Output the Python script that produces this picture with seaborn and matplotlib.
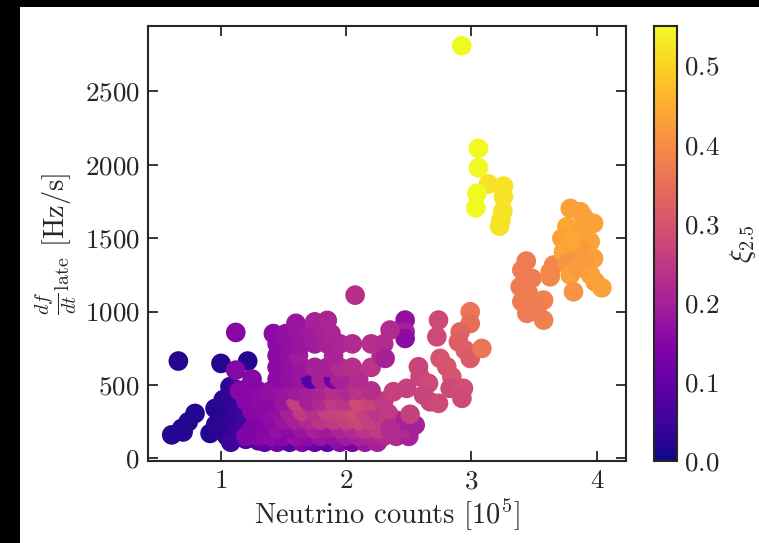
import matplotlib
matplotlib.use("Agg")
import numpy as np
import pandas as pd
import matplotlib.pyplot as plt
from matplotlib.colors import Normalize
from matplotlib.patches import Rectangle
import seaborn as sns

# ---- data: neutrino counts [1e5], late-time df/dt [Hz/s], compactness xi_2.5 ----
blue_x = [0.662, 1.002, 1.215, 0.609, 0.689, 0.741, 0.795, 0.70, 0.915, 0.955, 0.96, 1.0,
          1.02, 1.074, 1.12, 1.18, 1.05, 1.0, 1.1, 1.1, 1.15, 1.2, 1.25, 1.08, 1.2, 1.3,
          1.15, 1.28]
blue_y = [663, 647, 663, 160, 204, 249, 306, 180, 170, 340, 230, 300,
          400, 488, 470, 465, 150, 200, 250, 350, 330, 300, 200, 110, 130, 120,
          190, 260]
blue_xi = [0.02, 0.02, 0.02, 0.02, 0.02, 0.02, 0.02, 0.02, 0.02, 0.02, 0.03, 0.02,
           0.03, 0.03, 0.04, 0.03, 0.03, 0.03, 0.04, 0.04, 0.04, 0.05, 0.06, 0.05, 0.07, 0.08,
           0.05, 0.07]

core_x = [1.35, 1.45, 1.55, 1.65, 1.75, 1.85, 1.95, 2.05, 2.15, 2.25,
          1.2, 1.3, 1.4, 1.5, 1.6, 1.7, 1.8, 1.9, 2.0, 2.1, 2.2, 2.3, 2.4, 2.5,
          1.25, 1.35, 1.45, 1.55, 1.65, 1.75, 1.85, 1.95, 2.05, 2.15, 2.25, 2.35, 2.45,
          1.3, 1.4, 1.5, 1.6, 1.7, 1.8, 1.9, 2.0, 2.1, 2.2, 2.3, 2.4,
          1.25, 1.35, 1.45, 1.55, 1.65, 1.75, 1.85, 1.95, 2.05, 2.15, 2.25,
          1.2, 1.3, 1.4, 1.5, 1.6, 1.7, 1.8, 1.9, 2.0, 2.1, 2.2, 2.3,
          1.15, 1.3, 1.4, 1.5, 1.6, 1.7, 1.8, 1.9, 2.0, 2.1, 2.2,
          1.25, 1.45, 1.55, 1.65, 1.72, 1.8, 1.9, 1.95, 2.1,
          1.12, 1.45, 1.55, 1.65, 1.75, 1.85, 1.95, 2.05, 2.2,
          1.45, 1.55, 1.62, 1.9, 2.28,
          1.45, 1.55, 1.65, 1.75, 1.85, 1.95, 2.05, 2.2, 2.3,
          1.12, 1.42, 1.52, 1.62, 1.72, 1.82, 1.88,
          1.6, 1.75, 1.85]
core_y = [110, 110, 110, 110, 110, 110, 110, 110, 110, 110,
          150, 150, 150, 150, 150, 150, 150, 150, 150, 150, 150, 150, 150, 150,
          200, 200, 200, 200, 200, 200, 200, 200, 200, 200, 200, 200, 200,
          260, 260, 260, 260, 260, 260, 260, 260, 260, 260, 260, 260,
          320, 320, 320, 320, 320, 320, 320, 320, 320, 320, 320,
          390, 390, 390, 390, 390, 390, 390, 390, 390, 390, 390, 390,
          460, 460, 460, 460, 460, 460, 460, 460, 460, 460, 460,
          540, 540, 540, 540, 540, 540, 540, 540, 540,
          601, 620, 620, 620, 620, 620, 620, 620, 620,
          700, 700, 700, 700, 700,
          780, 780, 780, 780, 780, 780, 780, 780, 780,
          858, 850, 850, 850, 850, 850, 850,
          920, 930, 940]
core_xi = [0.10, 0.12, 0.08, 0.14, 0.11, 0.09, 0.16, 0.13, 0.18, 0.20,
           0.14, 0.15, 0.16, 0.15, 0.17, 0.16, 0.18, 0.17, 0.19, 0.20, 0.21, 0.22, 0.22, 0.20,
           0.14, 0.15, 0.17, 0.16, 0.18, 0.20, 0.19, 0.21, 0.22, 0.24, 0.25, 0.23, 0.22,
           0.14, 0.16, 0.18, 0.20, 0.22, 0.24, 0.25, 0.26, 0.27, 0.26, 0.25, 0.24,
           0.15, 0.16, 0.17, 0.20, 0.25, 0.23, 0.26, 0.27, 0.28, 0.26, 0.24,
           0.15, 0.16, 0.16, 0.18, 0.26, 0.20, 0.22, 0.25, 0.24, 0.28, 0.27, 0.25,
           0.15, 0.16, 0.17, 0.18, 0.19, 0.20, 0.21, 0.23, 0.22, 0.24, 0.23,
           0.15, 0.16, 0.17, 0.18, 0.08, 0.20, 0.12, 0.20, 0.22,
           0.15, 0.16, 0.17, 0.18, 0.20, 0.20, 0.22, 0.23, 0.24,
           0.16, 0.17, 0.19, 0.21, 0.22,
           0.16, 0.17, 0.18, 0.19, 0.20, 0.21, 0.22, 0.23, 0.22,
           0.15, 0.16, 0.17, 0.18, 0.19, 0.20, 0.21,
           0.18, 0.20, 0.21]

tail_x = [2.072, 2.471, 2.471, 2.471, 2.351, 2.311, 2.737, 2.724, 2.99, 2.99, 2.91, 2.896,
          2.95, 2.99, 3.083, 2.75, 2.803, 2.843, 2.83, 2.936, 2.924, 2.577, 2.59, 2.657,
          2.484, 2.617, 2.67, 2.737, 2.377, 2.337, 2.471, 2.551, 2.351, 2.51]
tail_y = [1112, 942, 862, 817, 874, 681, 942, 828, 999, 919, 862, 794,
          737, 681, 749, 681, 624, 556, 477, 477, 409, 624, 556, 511,
          477, 431, 386, 375, 454, 306, 261, 227, 204, 300]
tail_xi = [0.23, 0.17, 0.20, 0.16, 0.22, 0.20, 0.28, 0.28, 0.36, 0.35, 0.33, 0.32,
           0.32, 0.31, 0.36, 0.30, 0.30, 0.30, 0.28, 0.29, 0.28, 0.27, 0.27, 0.28,
           0.26, 0.27, 0.27, 0.28, 0.26, 0.25, 0.20, 0.20, 0.22, 0.26]

salmon_x = [3.437, 3.402, 3.482, 3.389, 3.455, 3.402, 3.575, 3.442, 3.575, 3.628,
            3.655, 3.628, 3.45, 3.52]
salmon_y = [1344, 1283, 1226, 1169, 1124, 1067, 1078, 988, 942, 1237,
            1317, 1270, 1050, 1000]
salmon_xi = [0.37, 0.37, 0.37, 0.37, 0.37, 0.37, 0.38, 0.37, 0.38, 0.39,
             0.39, 0.39, 0.37, 0.37]

orange_x = [3.788, 3.868, 3.894, 3.974, 3.761, 3.721, 3.868, 3.947, 3.734, 3.868, 3.974,
            3.761, 3.788, 3.921, 3.987, 4.04, 3.814, 3.83, 3.80, 3.90, 3.85, 3.95]
orange_y = [1703, 1680, 1646, 1601, 1578, 1499, 1533, 1476, 1407, 1419, 1362,
            1328, 1249, 1283, 1203, 1162, 1135, 1450, 1480, 1350, 1300, 1250]
orange_xi = [0.43, 0.43, 0.43, 0.43, 0.44, 0.43, 0.43, 0.43, 0.44, 0.42, 0.43,
             0.41, 0.43, 0.42, 0.42, 0.43, 0.41, 0.42, 0.44, 0.42, 0.42, 0.43]

yellow_x = [2.923, 3.056, 3.056, 3.136, 3.255, 3.255, 3.043, 3.035, 3.25, 3.235, 3.224]
yellow_y = [2811, 2112, 1980, 1869, 1855, 1782, 1805, 1707, 1685, 1623, 1582]
yellow_xi = [0.55, 0.55, 0.55, 0.52, 0.52, 0.52, 0.55, 0.55, 0.52, 0.52, 0.52]

xi_range = (0.0, 0.55)

df = pd.DataFrame({
    "counts": blue_x + core_x + tail_x + salmon_x + orange_x + yellow_x,
    "dfdt": blue_y + core_y + tail_y + salmon_y + orange_y + yellow_y,
    "xi": blue_xi + core_xi + tail_xi + salmon_xi + orange_xi + yellow_xi,
})

sns.set_style("ticks")
plt.rcParams.update({
    "font.family": "serif",
    "font.serif": ["cmr10"],
    "mathtext.fontset": "cm",
    "axes.formatter.use_mathtext": True,
    "font.size": 19,
    "axes.linewidth": 1.5,
})

fig = plt.figure(figsize=(7.59, 5.43), dpi=100)
fig.patch.set_facecolor("white")
# dark frame strips along the left and top edges
fig.patches.append(Rectangle((0, 0), 20 / 759, 1, transform=fig.transFigure,
                             facecolor="black", edgecolor="none", zorder=-5))
fig.patches.append(Rectangle((0, 1 - 7 / 543), 1, 7 / 543, transform=fig.transFigure,
                             facecolor="black", edgecolor="none", zorder=-5))

ax = fig.add_axes([0.195, 0.151, 0.630, 0.801])
cax = fig.add_axes([0.8617, 0.151, 0.0303, 0.801])

sns.scatterplot(data=df, x="counts", y="dfdt", hue="xi", palette="plasma",
                hue_norm=xi_range, s=200, edgecolor="none", linewidth=0,
                legend=False, ax=ax)

ax.set_xlim(0.42, 4.234)
ax.set_ylim(-18, 2945)
ax.set_xticks([1, 2, 3, 4])
ax.set_yticks([0, 500, 1000, 1500, 2000, 2500])
ax.tick_params(direction="in", top=True, right=True, length=7, width=1.3,
               labelsize=19.5, pad=6)
for sp in ax.spines.values():
    sp.set_linewidth(1.5)
ax.set_xlabel(r"Neutrino counts [$10^5$]", fontsize=20.5, labelpad=3)
ax.set_ylabel(r"$\frac{df}{dt}_{\rm late}$ [Hz/s]", fontsize=20.5, labelpad=4)

sm = plt.cm.ScalarMappable(cmap="plasma", norm=Normalize(*xi_range))
cb = fig.colorbar(sm, cax=cax)
cb.set_ticks([0.0, 0.1, 0.2, 0.3, 0.4, 0.5])
cb.ax.tick_params(direction="in", length=6, width=1.3, labelsize=19.5, pad=5)
cb.outline.set_linewidth(1.5)
cb.set_label(r"$\xi_{2.5}$", fontsize=20.5, labelpad=6)

fig.savefig("out.png", dpi=100)
